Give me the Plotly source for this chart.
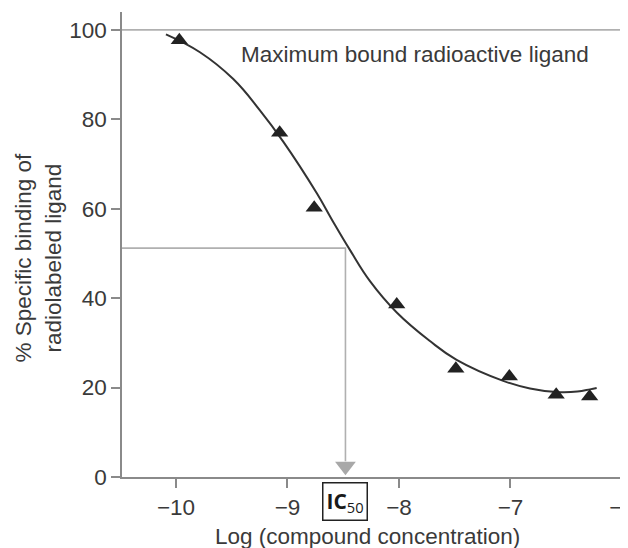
import plotly.graph_objects as go

# Measured data (triangles)
log_conc = [-9.97, -9.07, -8.76, -8.02, -7.49, -7.01, -6.59, -6.29]
binding = [97.7, 77.0, 60.2, 38.6, 24.2, 22.5, 18.4, 18.0]

# Fitted curve
curve_x = [-10.09, -9.785, -9.486, -9.247, -9.038, -8.738, -8.60, -8.44, -8.26,
           -8.02, -7.722, -7.483, -7.065, -6.825, -6.586, -6.40, -6.287, -6.227]
curve_y = [99.0, 95.0, 89.0, 82.0, 75.0, 63.5, 57.5, 50.8, 43.8,
           36.8, 30.4, 26.2, 21.5, 19.8, 19.0, 19.1, 19.6, 19.9]

x_ticks = [-10, -9, -8, -7, -6]
y_ticks = [0, 20, 40, 60, 80, 100]

max_level = 100
ic50_x = -8.48
ic50_y = 51.2

x_range = [-10.484, -5.946]
y_range = [0, 104]

text_col = "#3a3a3a"
axis_col = "#8a8a8a"
guide_col = "#b0b0b0"
FONT = "Liberation Sans, Arial, Helvetica, sans-serif"
FS = 22.5

fig = go.Figure()

# Maximum line
fig.add_trace(go.Scatter(x=x_range, y=[max_level, max_level], mode="lines",
                         line=dict(color=guide_col, width=1.6), hoverinfo="skip"))
# IC50 guide lines
fig.add_trace(go.Scatter(x=[x_range[0], ic50_x, ic50_x], y=[ic50_y, ic50_y, 3.5],
                         mode="lines", line=dict(color=guide_col, width=1.6),
                         hoverinfo="skip"))
# Arrow head
fig.add_trace(go.Scatter(x=[ic50_x], y=[2.4], mode="markers",
                         marker=dict(symbol="triangle-down", size=18, color="#a8a8a8",
                                     line=dict(width=0)),
                         cliponaxis=False, hoverinfo="skip"))
# Curve
fig.add_trace(go.Scatter(x=curve_x, y=curve_y, mode="lines",
                         line=dict(color="#333333", width=2, shape="spline", smoothing=1.2),
                         hoverinfo="skip"))
# Data points
fig.add_trace(go.Scatter(x=log_conc, y=binding, mode="markers",
                         marker=dict(symbol="triangle-up", size=15, color="#222222",
                                     line=dict(width=0)),
                         cliponaxis=False))

axis_common = dict(showline=True, linecolor=axis_col, linewidth=1.6,
                   ticks="outside", ticklen=9, tickcolor=axis_col, tickwidth=1.6,
                   showgrid=False, zeroline=False, automargin=False,
                   tickfont=dict(family=FONT, size=FS, color=text_col))

fig.update_layout(
    template="none",
    width=620, height=540,
    margin=dict(l=114, r=0, t=4, b=71, autoexpand=False),
    paper_bgcolor="white", plot_bgcolor="white",
    showlegend=False,
    font=dict(family=FONT, color=text_col),
    xaxis=dict(range=x_range, tickvals=x_ticks, ticklabeloverflow="allow", **axis_common),
    yaxis=dict(range=y_range, tickvals=y_ticks, **axis_common),
    annotations=[
        dict(text="Maximum bound radioactive ligand", x=-9.435, y=94.4,
             xref="x", yref="y", xanchor="left", yanchor="middle", showarrow=False,
             font=dict(family=FONT, size=FS, color=text_col)),
        dict(text="Log (compound concentration)", x=0.486, y=-0.129,
             xref="paper", yref="paper", xanchor="center", yanchor="middle",
             showarrow=False, font=dict(family=FONT, size=FS, color=text_col)),
        dict(text="% Specific binding of<br>radiolabeled ligand", x=-0.166, y=0.472,
             xref="paper", yref="paper", xanchor="center", yanchor="middle",
             textangle=-90, showarrow=False,
             font=dict(family=FONT, size=FS, color=text_col)),
        dict(text="<b>IC</b><sub>50</sub>", x=ic50_x, y=-0.052,
             xref="x", yref="paper", xanchor="center", yanchor="middle",
             showarrow=False, bordercolor="#222222", borderwidth=1.5, borderpad=3,
             bgcolor="white",
             font=dict(family="Open Sans, sans-serif", size=21, color="#1a1a1a")),
    ],
)

fig.write_html("out.html")
